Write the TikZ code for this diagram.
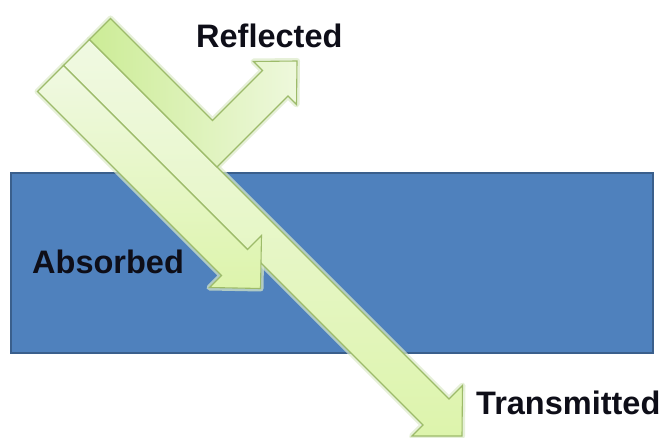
\documentclass[tikz,border=0pt]{standalone}
\usepackage{fontspec}
\setmainfont{Liberation Sans}
\usetikzlibrary{calc}
\definecolor{slabblue}{HTML}{4F81BD}
\definecolor{slabedge}{HTML}{3A5F8C}
\definecolor{beamedge}{HTML}{9DBB6A}
\definecolor{beamglow}{HTML}{DCEBC8}
\definecolor{lightA}{HTML}{F0F9E2}
\definecolor{lightB}{HTML}{DDF4AC}
\definecolor{reflA}{HTML}{CCEC96}
\definecolor{reflB}{HTML}{EEF8DC}
\definecolor{labeltext}{HTML}{0E0E18}
\tikzset{
  slab/.style={fill=slabblue, draw=slabedge, line width=1.6pt},
  glow/.style={draw=beamglow, line width=6pt, line join=round, opacity=0.7},
  beam/.style={draw=beamedge, line width=1.1pt, line join=miter},
  labeltxt/.style={anchor=base west, inner sep=0pt, text=labeltext,
    font=\fontsize{32.5}{38}\selectfont\bfseries}
}
\begin{document}
\begin{tikzpicture}[x=1pt,y=-1pt]
\useasboundingbox (0,0) rectangle (666,438);
\fill[white] (0,0) rectangle (666,438);
% slab
\node[slab, minimum width=642pt, minimum height=180pt, inner sep=0pt, anchor=north west] (slab) at (10,172) {};
% beam outlines (coordinates)
\coordinate (tA) at (110.5,18.5);
\coordinate (tB) at (89.5,39.5);
\coordinate (tC) at (63.5,65.5);
\coordinate (tD) at (37.5,91.5);
% glow
\draw[glow] (tB) -- (449,399) -- (462.5,385.5) -- (462,436) -- (412,436) -- (423,425) -- (tC) -- cycle;
\draw[glow] (tC) -- (247.5,249.5) -- (261.5,235.5) -- (260.5,288.5) -- (209.5,287.5) -- (221.5,275.5) -- (tD) -- cycle;
\draw[glow] (tA) -- (212.5,120.5) -- (262.5,70.5) -- (253.5,61.5) -- (297,61) -- (296.5,104.5) -- (288,96) -- (217,167) -- (tB) -- cycle;
% transmitted
\draw[beam, top color=lightA, bottom color=lightB] (tB) -- (449,399) -- (462.5,385.5) -- (462,436) -- (412,436) -- (423,425) -- (tC) -- cycle;
% absorbed
\draw[beam, top color=lightA, bottom color=lightB] (tC) -- (247.5,249.5) -- (261.5,235.5) -- (260.5,288.5) -- (209.5,287.5) -- (221.5,275.5) -- (tD) -- cycle;
% reflected
\draw[beam, left color=reflA, right color=reflB] (tA) -- (212.5,120.5) -- (262.5,70.5) -- (253.5,61.5) -- (297,61) -- (296.5,104.5) -- (288,96) -- (217,167) -- (tB) -- cycle;
% labels
\node[labeltxt] (refl) at (196,48) {Reflected};
\node[labeltxt] (abs) at (32,273) {Absorbed};
\node[labeltxt] (trans) at (476,414) {Transmitted};
\end{tikzpicture}
\end{document}
